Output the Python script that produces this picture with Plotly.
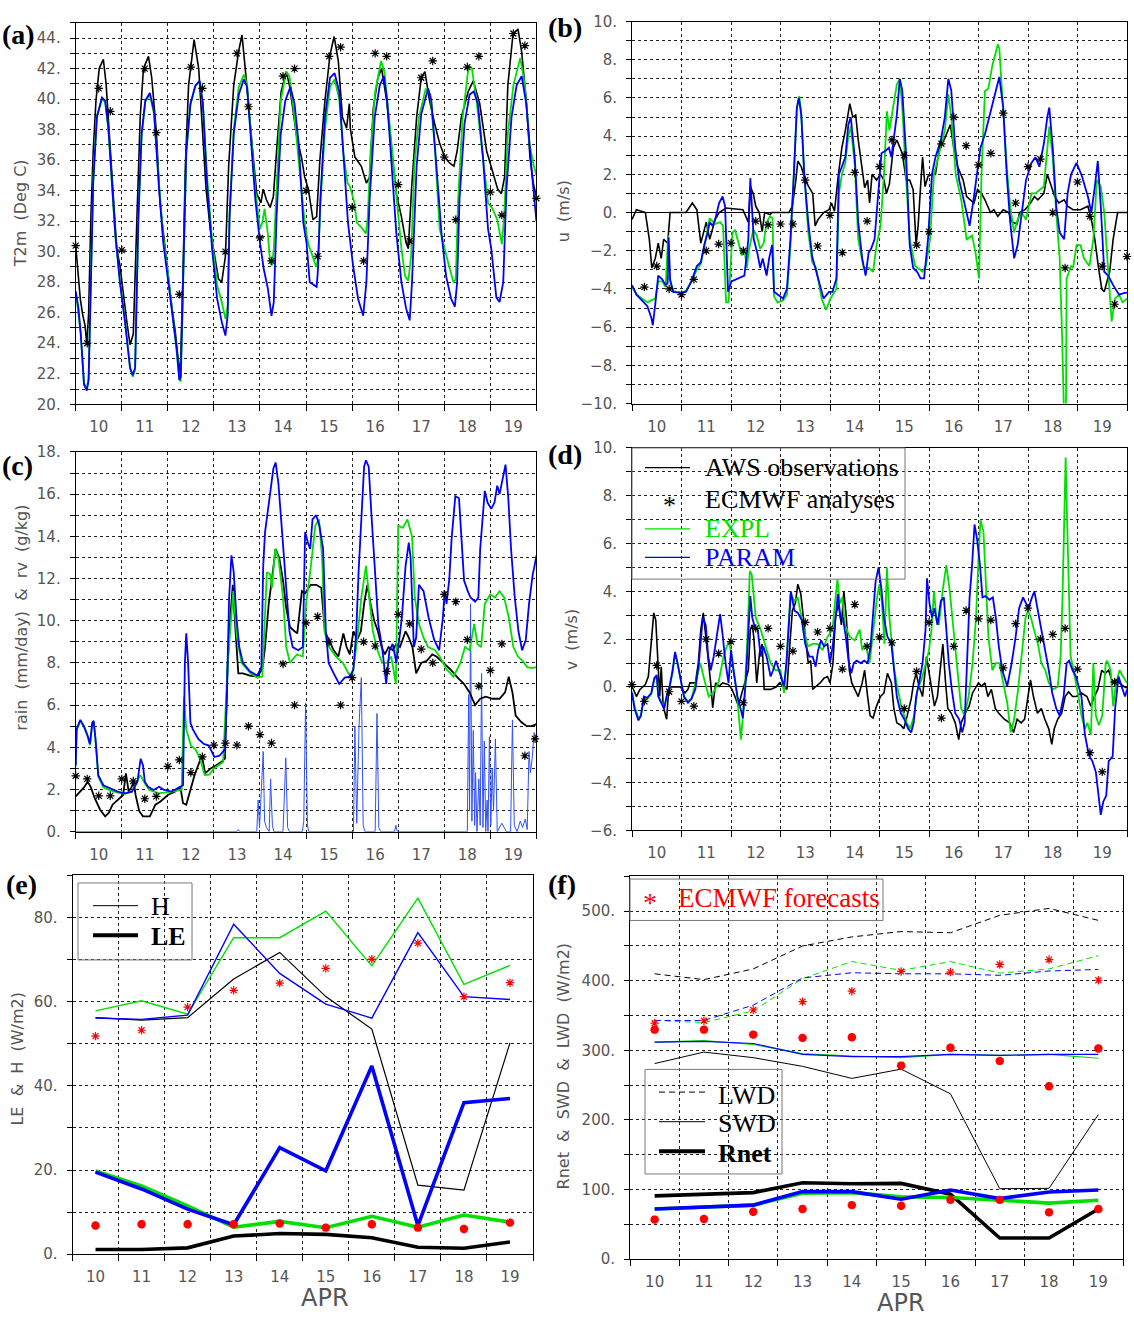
import plotly.graph_objects as go

W, H = 1134, 1327
DAYS = list(range(10, 20))
GREEN = "#00e000"
BLUE = "#0000ff"
RED = "#ff0000"

# ---------------- (a) T2m ----------------
a_obs = [(10.0,30.4),(10.04,29.1),(10.1,26.9),(10.15,25.9),(10.2,25.2),(10.24,24.0),(10.28,25.9),(10.33,32.3),(10.38,36.6),(10.44,39.9),(10.51,42.0),(10.6,42.6),(10.66,41.0),(10.73,37.7),(10.82,33.2),(10.89,30.2),(10.96,29.1),(11.04,26.9),(11.11,25.4),(11.18,23.9),(11.25,24.6),(11.33,32.3),(11.4,38.8),(11.47,42.0),(11.58,42.8),(11.65,41.4),(11.75,37.9),(11.83,33.2),(11.9,31.2),(12.01,28.4),(12.09,26.3),(12.16,24.8),(12.23,22.8),(12.27,22.0),(12.33,28.7),(12.38,35.6),(12.45,40.9),(12.52,42.7),(12.57,43.9),(12.67,42.0),(12.74,38.8),(12.83,34.1),(12.92,31.5),(13.03,29.3),(13.1,28.2),(13.17,28.0),(13.25,29.7),(13.32,35.6),(13.43,40.9),(13.54,43.2),(13.61,44.2),(13.68,42.0),(13.78,38.4),(13.86,36.0),(13.93,33.8),(14.02,33.2),(14.07,34.1),(14.14,33.4),(14.22,32.9),(14.29,33.6),(14.36,36.6),(14.46,40.5),(14.57,41.8),(14.64,40.9),(14.8,37.5),(14.9,36.2),(14.97,34.9),(15.05,34.1),(15.15,32.1),(15.23,32.3),(15.3,36.0),(15.41,39.9),(15.52,42.9),(15.61,44.1),(15.7,42.5),(15.79,38.8),(15.88,38.1),(15.94,39.7),(15.96,38.1),(16.06,36.2),(16.2,35.6),(16.31,34.5),(16.38,34.9),(16.46,39.4),(16.56,41.4),(16.64,42.0),(16.75,39.9),(16.86,36.6),(16.96,33.8),(17.07,32.3),(17.17,30.6),(17.22,30.2),(17.29,34.1),(17.4,38.8),(17.5,41.4),(17.58,41.8),(17.68,39.9),(17.79,38.4),(17.9,37.1),(18.01,36.2),(18.12,35.8),(18.21,35.6),(18.28,36.6),(18.37,38.8),(18.52,40.5),(18.63,41.2),(18.77,39.7),(18.92,36.6),(19.06,35.1),(19.16,34.1),(19.24,33.8),(19.31,34.9),(19.38,40.9),(19.49,44.2),(19.6,44.6),(19.68,43.1),(19.78,39.9),(19.86,36.2),(19.93,34.5),(20.0,33.6)]
a_param = [(10.0,27.4),(10.06,26.3),(10.11,24.6),(10.15,22.6),(10.18,21.3),(10.24,20.9),(10.28,21.6),(10.33,28.0),(10.38,34.5),(10.46,38.8),(10.57,40.1),(10.64,39.9),(10.71,38.1),(10.78,34.9),(10.86,31.2),(10.96,28.0),(11.07,25.4),(11.18,22.4),(11.24,21.9),(11.29,22.4),(11.36,32.3),(11.43,37.7),(11.51,39.9),(11.61,40.4),(11.7,39.2),(11.8,34.5),(11.9,30.6),(12.01,28.0),(12.12,25.4),(12.19,23.7),(12.25,21.6),(12.28,21.8),(12.33,28.0),(12.4,36.6),(12.49,39.7),(12.6,40.9),(12.69,41.2),(12.76,39.7),(12.85,34.5),(12.96,30.2),(13.07,26.9),(13.17,25.4),(13.25,24.5),(13.3,25.9),(13.34,32.3),(13.43,37.7),(13.54,40.3),(13.65,41.3),(13.72,40.8),(13.8,37.7),(13.9,33.4),(14.0,30.6),(14.08,28.9),(14.17,27.6),(14.25,25.8),(14.3,26.7),(14.36,32.3),(14.45,37.7),(14.55,39.9),(14.66,40.8),(14.75,39.7),(14.84,37.1),(14.94,31.9),(15.01,30.6),(15.08,28.0),(15.23,27.7),(15.26,28.9),(15.31,33.4),(15.41,38.8),(15.52,41.4),(15.62,41.7),(15.72,40.5),(15.81,36.2),(15.91,31.9),(16.02,29.1),(16.13,26.9),(16.24,25.8),(16.31,28.0),(16.38,33.4),(16.49,38.8),(16.6,40.9),(16.69,41.5),(16.76,39.9),(16.86,35.6),(16.96,31.2),(17.07,28.0),(17.17,26.3),(17.25,25.5),(17.3,28.0),(17.4,35.6),(17.5,39.0),(17.65,40.7),(17.72,39.9),(17.83,35.6),(17.94,31.2),(18.04,28.4),(18.15,26.9),(18.23,26.4),(18.28,28.0),(18.33,33.4),(18.44,38.4),(18.55,40.3),(18.64,40.5),(18.73,39.7),(18.84,36.2),(18.95,31.5),(19.02,30.2),(19.13,27.0),(19.2,26.7),(19.28,28.0),(19.35,34.1),(19.46,38.8),(19.57,40.9),(19.68,41.5),(19.78,39.7),(19.89,35.6),(20.0,32.0)]
a_expl = [(10.0,27.4),(10.11,24.6),(10.18,21.4),(10.24,21.0),(10.28,21.7),(10.33,28.2),(10.38,34.7),(10.46,38.9),(10.57,40.0),(10.64,39.8),(10.71,38.0),(10.78,34.7),(10.86,31.0),(10.96,28.0),(11.07,25.5),(11.18,22.3),(11.24,21.8),(11.29,22.3),(11.36,32.0),(11.43,37.5),(11.51,39.8),(11.61,40.3),(11.7,39.0),(11.8,34.8),(11.9,31.0),(12.01,28.4),(12.12,25.6),(12.19,23.5),(12.25,21.6),(12.28,21.5),(12.33,27.5),(12.4,36.4),(12.49,39.6),(12.6,40.9),(12.69,41.1),(12.76,39.8),(12.85,35.0),(12.96,30.8),(13.07,27.8),(13.17,26.7),(13.25,25.6),(13.3,26.5),(13.34,32.5),(13.43,38.0),(13.54,40.8),(13.65,41.6),(13.72,41.0),(13.8,38.0),(13.9,34.0),(14.0,31.5),(14.05,31.9),(14.1,32.8),(14.17,31.2),(14.22,29.3),(14.26,29.1),(14.3,30.2),(14.36,34.5),(14.45,39.9),(14.57,41.8),(14.64,41.5),(14.75,38.8),(14.85,35.6),(14.97,31.9),(15.05,30.5),(15.15,29.6),(15.22,29.0),(15.26,29.5),(15.31,33.0),(15.41,38.0),(15.52,40.8),(15.62,41.3),(15.72,40.0),(15.81,36.5),(15.9,34.5),(15.95,34.3),(16.05,33.2),(16.1,31.9),(16.2,31.6),(16.3,31.2),(16.34,32.3),(16.4,36.6),(16.5,40.5),(16.63,42.5),(16.7,41.8),(16.8,38.8),(16.96,33.4),(17.07,30.2),(17.15,28.4),(17.22,28.1),(17.28,29.7),(17.35,35.6),(17.45,38.8),(17.6,40.7),(17.7,40.3),(17.8,36.6),(17.9,31.5),(18.0,30.2),(18.1,29.1),(18.2,28.0),(18.25,28.2),(18.3,33.4),(18.4,38.8),(18.53,42.2),(18.6,42.0),(18.7,39.9),(18.85,35.6),(18.95,33.2),(19.05,32.8),(19.15,32.1),(19.25,30.5),(19.3,32.3),(19.38,37.7),(19.5,40.9),(19.65,42.7),(19.75,40.9),(19.85,37.1),(19.93,35.8),(20.0,35.0)]
a_ana = [(10.0,30.4),(10.25,24.0),(10.5,40.7),(10.75,39.2),(11.0,30.1),(11.5,42.0),(11.75,37.8),(12.25,27.2),(12.5,42.1),(12.75,40.7),(13.25,30.0),(13.5,43.0),(13.75,39.5),(14.0,30.9),(14.25,29.4),(14.5,41.5),(14.75,42.0),(15.0,34.0),(15.25,29.7),(15.5,42.8),(15.75,43.4),(16.0,32.9),(16.25,29.4),(16.5,43.0),(16.75,42.8),(17.0,34.4),(17.25,30.7),(17.5,41.4),(17.75,42.5),(18.0,36.2),(18.25,32.1),(18.5,42.1),(18.75,42.8),(19.0,33.9),(19.25,32.4),(19.5,44.3),(19.75,43.5),(20.0,33.5)]

# ---------------- (b) u ----------------
b_obs = [(10.0,-0.36),(10.09,0.15),(10.27,0.0),(10.35,-1.4),(10.4,-2.9),(10.47,-2.4),(10.53,-1.6),(10.59,-2.4),(10.64,-1.4),(10.72,-1.6),(10.77,0.0),(11.09,0.0),(11.22,0.5),(11.31,0.15),(11.39,-1.6),(11.5,-0.5),(11.57,-1.4),(11.68,-0.36),(11.76,0.0),(11.9,0.24),(12.24,0.15),(12.35,-0.5),(12.39,1.36),(12.45,1.0),(12.5,0.33),(12.57,0.0),(12.63,-1.0),(12.68,0.0),(12.79,-0.1),(12.83,0.0),(13.17,0.0),(13.24,0.33),(13.31,1.7),(13.35,2.7),(13.42,2.4),(13.5,1.7),(13.57,1.36),(13.65,1.0),(13.7,-0.7),(13.76,-0.36),(13.87,0.0),(13.98,0.15),(14.03,0.5),(14.09,0.07),(14.17,2.0),(14.24,3.4),(14.31,4.3),(14.4,5.7),(14.46,5.0),(14.52,5.1),(14.57,3.8),(14.65,2.4),(14.7,1.3),(14.76,1.7),(14.8,0.5),(14.85,2.0),(14.94,1.7),(15.02,2.0),(15.09,1.7),(15.14,1.0),(15.2,1.5),(15.28,3.4),(15.35,3.8),(15.46,3.1),(15.54,1.7),(15.61,1.7),(15.68,1.2),(15.74,-1.7),(15.78,-0.7),(15.83,1.36),(15.87,2.9),(15.92,1.36),(15.98,1.9),(16.06,2.0),(16.13,2.0),(16.21,3.4),(16.32,3.9),(16.43,4.6),(16.5,3.4),(16.58,2.4),(16.69,1.7),(16.76,0.84),(16.83,0.67),(16.91,0.5),(16.98,1.2),(17.06,1.0),(17.13,0.67),(17.24,0.0),(17.31,0.15),(17.39,-0.2),(17.5,0.15),(17.61,0.0),(17.68,-0.5),(17.78,-0.6),(17.83,0.0),(17.94,0.15),(18.05,0.5),(18.13,0.84),(18.2,0.67),(18.32,1.0),(18.39,2.0),(18.47,1.36),(18.54,0.84),(18.62,0.5),(18.73,0.67),(18.8,0.33),(18.91,0.15),(19.06,0.15),(19.21,0.33),(19.28,-0.36),(19.35,-1.4),(19.42,-2.8),(19.49,-4.0),(19.54,-4.15),(19.59,-3.6),(19.65,-3.1),(19.72,-1.4),(19.81,0.0),(20.0,0.0)]
b_param = [(10.0,-3.8),(10.09,-4.3),(10.2,-4.6),(10.31,-4.9),(10.39,-5.5),(10.42,-5.9),(10.47,-4.8),(10.53,-3.3),(10.61,-3.5),(10.68,-3.8),(10.72,-3.7),(10.74,-1.3),(10.77,-3.5),(10.83,-4.15),(10.98,-4.2),(11.09,-4.15),(11.2,-3.6),(11.31,-2.8),(11.39,-2.6),(11.46,-1.7),(11.53,-1.05),(11.57,-0.5),(11.63,-0.7),(11.68,-0.36),(11.76,0.5),(11.83,0.84),(11.88,0.33),(11.94,-4.15),(12.01,-3.6),(12.09,-3.5),(12.16,-3.45),(12.27,-3.3),(12.31,-2.4),(12.35,-1.4),(12.39,1.8),(12.42,0.67),(12.46,-1.4),(12.53,-2.1),(12.59,-2.9),(12.64,-2.4),(12.68,-2.9),(12.72,-3.3),(12.77,-2.4),(12.83,-1.7),(12.87,-4.15),(12.94,-4.3),(13.05,-4.5),(13.13,-4.0),(13.2,-1.4),(13.27,2.0),(13.33,5.5),(13.37,6.0),(13.42,5.1),(13.48,2.0),(13.56,-0.5),(13.64,-2.3),(13.72,-3.1),(13.79,-3.8),(13.87,-4.5),(13.98,-4.15),(14.05,-4.15),(14.13,-3.45),(14.18,2.0),(14.24,2.4),(14.31,2.9),(14.37,4.6),(14.42,5.0),(14.5,2.9),(14.57,-0.5),(14.65,-2.4),(14.72,-3.3),(14.78,-2.1),(14.83,-1.9),(14.9,-1.4),(14.98,1.0),(15.04,3.1),(15.13,3.25),(15.19,3.4),(15.24,2.9),(15.29,3.9),(15.35,5.1),(15.41,7.0),(15.46,6.4),(15.54,2.9),(15.61,-1.7),(15.68,-2.9),(15.76,-3.1),(15.83,-3.45),(15.9,-3.45),(15.98,-1.4),(16.06,2.0),(16.13,2.9),(16.24,3.8),(16.32,5.0),(16.39,7.0),(16.45,6.4),(16.53,3.4),(16.61,1.7),(16.69,0.84),(16.76,0.0),(16.82,-0.7),(16.9,0.67),(16.97,2.0),(17.04,3.4),(17.13,4.1),(17.24,5.3),(17.35,6.35),(17.42,7.1),(17.5,5.5),(17.57,2.0),(17.64,-0.5),(17.72,-2.4),(17.79,-1.7),(17.87,0.0),(17.96,1.7),(18.07,2.6),(18.15,2.9),(18.23,2.4),(18.32,3.6),(18.39,5.0),(18.43,5.5),(18.5,3.4),(18.57,0.33),(18.64,-1.05),(18.73,-1.4),(18.8,1.0),(18.87,2.0),(18.98,2.6),(19.09,1.9),(19.21,0.84),(19.28,0.0),(19.35,1.36),(19.41,2.7),(19.47,0.33),(19.54,-3.1),(19.62,-3.3),(19.72,-3.8),(19.84,-4.3),(19.95,-4.2),(20.0,-4.2)]
b_expl = [(10.0,-3.9),(10.1,-4.3),(10.2,-4.5),(10.31,-4.7),(10.39,-4.6),(10.47,-4.5),(10.53,-3.6),(10.61,-3.6),(10.68,-3.9),(10.73,-1.2),(10.76,-3.5),(10.83,-4.1),(10.98,-4.2),(11.09,-4.1),(11.2,-3.6),(11.31,-3.0),(11.39,-2.7),(11.47,-1.6),(11.57,-0.3),(11.68,-0.6),(11.78,-0.5),(11.84,-0.7),(11.9,-4.7),(11.95,-4.7),(12.03,-1.05),(12.08,-0.9),(12.15,-1.6),(12.22,-2.25),(12.27,-1.9),(12.32,-2.9),(12.36,-2.0),(12.45,-0.9),(12.52,-1.2),(12.59,-1.9),(12.66,-1.6),(12.72,-0.5),(12.79,-0.2),(12.84,-0.3),(12.87,-4.4),(12.94,-4.7),(13.05,-4.6),(13.13,-4.3),(13.2,-1.8),(13.27,1.8),(13.33,5.4),(13.38,6.1),(13.42,5.2),(13.48,2.0),(13.56,-1.0),(13.64,-2.6),(13.72,-2.9),(13.83,-4.5),(13.92,-5.1),(14.01,-4.5),(14.13,-4.0),(14.18,1.0),(14.24,2.0),(14.31,2.6),(14.37,4.0),(14.42,4.5),(14.5,2.5),(14.57,-1.4),(14.68,-2.9),(14.79,-2.9),(14.87,-3.1),(14.94,-1.7),(15.02,-0.7),(15.09,2.0),(15.15,5.3),(15.2,4.3),(15.28,5.5),(15.35,6.7),(15.41,7.0),(15.46,5.5),(15.54,1.7),(15.61,-1.4),(15.72,-2.8),(15.87,-3.1),(15.94,-2.8),(16.02,-1.4),(16.1,2.0),(16.21,3.1),(16.32,4.3),(16.39,6.2),(16.45,5.0),(16.54,2.0),(16.65,0.67),(16.76,-1.4),(16.87,-1.2),(16.94,-2.1),(17.01,-3.45),(17.06,2.0),(17.13,6.35),(17.2,6.5),(17.28,7.7),(17.39,8.8),(17.42,8.6),(17.5,5.3),(17.57,2.4),(17.64,0.33),(17.72,-1.05),(17.79,-0.36),(17.87,0.0),(17.96,-0.36),(18.07,1.0),(18.15,1.0),(18.32,1.36),(18.43,4.5),(18.5,2.9),(18.57,0.0),(18.64,-2.4),(18.69,-6.6),(18.72,-14.0),(18.76,-14.0),(18.78,-3.45),(18.87,-2.8),(18.91,-2.9),(18.98,-1.7),(19.06,-1.7),(19.13,-2.4),(19.24,-2.8),(19.32,-1.4),(19.39,1.7),(19.47,1.36),(19.54,0.0),(19.62,-3.1),(19.69,-5.7),(19.76,-4.5),(19.84,-4.3),(19.91,-4.7),(20.0,-4.5)]
b_ana = [(10.25,-3.9),(10.5,-2.8),(10.75,-4.0),(11.0,-4.3),(11.25,-3.5),(11.5,-2.0),(11.75,-1.65),(12.0,-1.6),(12.25,-2.0),(12.5,-0.45),(12.75,-0.65),(13.0,-0.6),(13.25,-0.6),(13.5,1.7),(13.75,-1.75),(14.0,-0.15),(14.25,-2.1),(14.5,2.1),(14.75,-0.45),(15.0,2.4),(15.25,3.8),(15.5,3.0),(15.75,-1.7),(16.0,-1.0),(16.25,3.6),(16.5,5.0),(16.75,3.5),(17.0,2.5),(17.25,3.1),(17.5,5.2),(17.75,0.5),(18.0,2.4),(18.25,2.8),(18.5,0.0),(18.75,-2.9),(19.0,1.6),(19.25,-0.2),(19.5,-2.8),(19.75,-4.8),(20.0,-2.3)]

# ---------------- (c) rain & rv ----------------
c_obs = [(10.0,1.67),(10.1,1.9),(10.18,2.1),(10.26,2.37),(10.33,2.1),(10.41,1.6),(10.53,1.04),(10.64,0.73),(10.72,0.9),(10.8,1.28),(10.91,1.5),(11.03,1.74),(11.09,2.76),(11.15,1.9),(11.21,2.1),(11.26,2.37),(11.3,1.74),(11.38,0.97),(11.46,0.73),(11.61,0.73),(11.73,1.28),(11.84,1.43),(12.0,1.74),(12.16,1.9),(12.27,2.13),(12.33,1.35),(12.4,1.28),(12.5,2.05),(12.58,2.68),(12.66,3.15),(12.74,3.6),(12.81,2.76),(12.93,3.0),(13.05,3.15),(13.16,3.3),(13.24,3.46),(13.3,8.0),(13.36,10.3),(13.41,11.7),(13.47,9.5),(13.53,7.5),(13.63,7.5),(13.78,7.4),(13.94,7.35),(14.05,7.7),(14.11,8.75),(14.19,10.8),(14.26,12.0),(14.34,13.4),(14.42,12.96),(14.5,11.9),(14.57,10.6),(14.65,9.7),(14.75,9.5),(14.81,9.4),(14.91,11.4),(14.98,11.3),(15.1,11.7),(15.22,11.7),(15.33,11.56),(15.41,9.5),(15.49,9.1),(15.6,8.6),(15.7,8.3),(15.76,8.9),(15.81,9.4),(15.88,8.75),(15.95,8.4),(16.03,9.5),(16.11,9.1),(16.19,9.5),(16.26,10.8),(16.33,11.7),(16.4,10.8),(16.48,10.0),(16.56,9.5),(16.64,8.75),(16.71,8.4),(16.79,8.75),(16.88,8.6),(16.96,8.9),(17.04,8.75),(17.16,9.5),(17.23,9.2),(17.31,8.75),(17.39,7.5),(17.5,8.0),(17.62,8.1),(17.74,8.4),(17.83,8.3),(17.98,8.0),(18.13,7.7),(18.29,7.3),(18.43,7.0),(18.55,6.6),(18.67,6.0),(18.78,6.3),(18.9,6.4),(19.05,6.3),(19.2,6.3),(19.32,6.6),(19.4,7.35),(19.48,6.6),(19.55,5.5),(19.67,5.2),(19.79,5.0),(19.9,5.0),(20.0,5.1)]
c_param = [(10.0,3.15),(10.02,4.86),(10.1,5.3),(10.18,5.0),(10.26,4.55),(10.31,4.16),(10.36,5.17),(10.39,5.25),(10.43,4.4),(10.49,2.68),(10.6,2.2),(10.76,2.06),(10.91,1.9),(11.07,1.82),(11.22,1.9),(11.34,2.37),(11.41,3.46),(11.46,3.15),(11.5,2.37),(11.57,2.13),(11.69,1.98),(11.81,2.13),(11.92,1.98),(12.08,1.9),(12.23,2.06),(12.33,2.2),(12.37,8.0),(12.4,9.4),(12.44,8.0),(12.49,5.17),(12.54,4.86),(12.66,4.4),(12.78,4.16),(12.89,4.08),(13.01,3.54),(13.12,3.6),(13.24,3.9),(13.28,6.4),(13.33,11.1),(13.38,13.1),(13.43,12.3),(13.49,10.15),(13.55,8.75),(13.63,8.0),(13.78,7.6),(13.94,7.4),(14.03,7.8),(14.07,12.6),(14.11,14.2),(14.21,15.8),(14.29,17.2),(14.34,17.5),(14.4,16.5),(14.48,14.2),(14.56,11.9),(14.64,9.5),(14.71,8.75),(14.83,8.6),(14.93,8.75),(14.98,14.2),(15.04,13.7),(15.09,13.4),(15.14,14.8),(15.22,15.0),(15.29,14.5),(15.37,13.4),(15.43,9.5),(15.49,8.0),(15.6,7.5),(15.72,7.0),(15.84,7.3),(15.95,7.35),(16.03,7.7),(16.09,9.5),(16.14,12.3),(16.2,15.0),(16.26,17.3),(16.3,17.6),(16.36,17.3),(16.42,15.0),(16.5,11.9),(16.57,9.8),(16.65,8.75),(16.74,7.0),(16.81,8.6),(16.88,8.9),(16.96,8.0),(17.02,9.2),(17.08,10.15),(17.16,12.6),(17.23,13.7),(17.27,12.96),(17.34,8.75),(17.39,9.2),(17.45,11.7),(17.55,11.4),(17.66,10.15),(17.78,9.1),(17.89,8.6),(17.97,10.15),(18.01,11.4),(18.05,10.8),(18.11,12.0),(18.16,13.9),(18.24,15.9),(18.32,15.8),(18.37,13.9),(18.43,11.9),(18.51,11.4),(18.57,11.1),(18.67,10.9),(18.74,11.1),(18.78,13.4),(18.84,15.1),(18.88,16.15),(18.94,15.6),(19.02,15.3),(19.09,15.6),(19.15,16.4),(19.2,16.0),(19.25,16.5),(19.33,17.4),(19.39,15.8),(19.45,13.4),(19.53,11.1),(19.61,9.5),(19.69,8.6),(19.77,9.1),(19.84,10.8),(19.92,12.2),(19.96,12.6),(20.0,13.1)]
c_expl = [(10.0,3.1),(10.02,4.8),(10.1,5.25),(10.18,4.95),(10.26,4.5),(10.31,4.1),(10.36,5.1),(10.39,5.2),(10.43,4.35),(10.49,2.6),(10.6,2.1),(10.76,1.95),(10.91,1.85),(11.07,1.8),(11.22,1.9),(11.32,2.3),(11.4,2.68),(11.5,2.3),(11.6,1.98),(11.8,1.82),(12.1,1.9),(12.3,2.0),(12.35,6.4),(12.4,4.86),(12.5,4.08),(12.6,3.9),(12.7,3.46),(12.8,2.68),(12.9,2.7),(13.0,3.0),(13.1,3.15),(13.2,3.3),(13.3,8.0),(13.36,9.85),(13.42,11.4),(13.5,9.2),(13.6,8.0),(13.8,7.5),(13.95,7.3),(14.05,7.35),(14.1,9.85),(14.15,12.3),(14.22,12.2),(14.26,11.56),(14.33,13.4),(14.4,12.96),(14.5,11.1),(14.57,8.75),(14.65,8.0),(14.8,8.4),(14.93,8.3),(15.0,10.8),(15.1,12.5),(15.2,14.5),(15.28,14.8),(15.35,12.96),(15.4,9.5),(15.5,8.75),(15.65,8.3),(15.8,8.0),(15.92,7.5),(16.0,7.35),(16.1,8.9),(16.2,11.1),(16.3,12.6),(16.36,11.4),(16.45,9.5),(16.55,8.6),(16.65,8.0),(16.75,8.0),(16.85,8.3),(16.95,7.0),(17.0,14.5),(17.1,14.4),(17.2,14.8),(17.3,14.0),(17.36,11.1),(17.45,9.85),(17.55,9.2),(17.65,8.75),(17.8,8.6),(17.9,8.3),(18.05,7.7),(18.2,7.35),(18.35,8.0),(18.45,8.75),(18.55,8.6),(18.65,9.85),(18.72,8.9),(18.8,8.75),(18.88,10.8),(19.0,11.25),(19.1,11.1),(19.2,11.4),(19.3,11.1),(19.4,10.15),(19.5,8.75),(19.6,8.3),(19.7,8.1),(19.8,7.8),(19.9,7.75),(20.0,7.8)]
c_rain = [(10.0,0),(13.5,0),(13.53,0.1),(13.56,0),(13.93,0),(13.96,1.5),(13.99,0.2),(14.03,1.8),(14.07,3.8),(14.1,0.5),(14.14,0.2),(14.2,0),(14.23,2.5),(14.27,0.3),(14.3,0),(14.5,0),(14.53,2.2),(14.56,3.5),(14.6,0.2),(14.64,0),(14.92,0),(14.95,0.5),(14.99,6.1),(15.03,0.3),(15.06,0),(16.03,0),(16.06,5.0),(16.1,0.4),(16.15,5.0),(16.2,7.3),(16.24,0.3),(16.28,0),(16.5,0),(16.54,5.6),(16.58,0.2),(16.62,0),(16.92,0),(16.95,0.3),(16.98,0),(18.5,0),(18.53,6.5),(18.55,1.0),(18.57,10.8),(18.6,0.5),(18.63,4.8),(18.66,0.3),(18.68,2.8),(18.71,0),(18.75,2.5),(18.78,0.3),(18.81,7.5),(18.84,0.2),(18.87,4.3),(18.9,0),(18.93,1.5),(18.95,0),(18.98,4.5),(19.01,0.3),(19.04,3.0),(19.07,1.0),(19.11,4.4),(19.15,0),(19.25,0.4),(19.3,0.2),(19.35,0),(19.44,0),(19.48,5.3),(19.52,0.3),(19.58,0),(19.65,0.5),(19.7,0.2),(19.76,0.6),(19.8,0.1),(19.84,3.8),(19.87,2.8),(19.91,3.5),(19.95,4.7),(20.0,4.4)]
c_ana = [(10.0,2.65),(10.25,2.5),(10.5,1.7),(10.75,1.7),(11.0,2.5),(11.25,2.4),(11.5,1.56),(11.75,1.67),(12.0,3.1),(12.25,3.4),(12.5,2.8),(12.75,3.55),(13.0,4.1),(13.25,4.2),(13.5,4.1),(13.75,5.0),(14.0,4.6),(14.25,4.2),(14.5,7.95),(14.75,6.0),(15.0,9.9),(15.25,10.2),(15.5,9.0),(15.75,6.0),(16.0,7.3),(16.25,9.0),(16.5,8.8),(16.75,7.6),(17.0,10.3),(17.25,9.85),(17.5,8.65),(17.75,8.0),(18.0,11.25),(18.25,10.9),(18.5,9.1),(18.75,6.9),(19.0,7.65),(19.25,8.9),(19.75,3.6),(19.97,4.4)]

# ---------------- (d) v ----------------
d_obs = [(10.0,0.03),(10.05,-0.25),(10.09,-0.4),(10.16,-0.1),(10.27,0.1),(10.33,0.44),(10.39,2.1),(10.44,3.1),(10.48,2.8),(10.52,1.0),(10.56,-0.4),(10.59,0.85),(10.63,-0.8),(10.7,-1.35),(10.74,-0.1),(10.79,0.0),(10.98,0.0),(11.07,-0.25),(11.13,-0.1),(11.17,0.17),(11.28,0.17),(11.34,1.0),(11.39,2.4),(11.44,3.1),(11.49,2.1),(11.54,1.27),(11.59,0.17),(11.63,-0.87),(11.69,0.17),(11.76,0.03),(11.83,0.17),(11.95,0.1),(12.02,-0.1),(12.08,-0.4),(12.15,-0.8),(12.2,-0.4),(12.28,0.17),(12.35,0.7),(12.39,2.4),(12.43,2.6),(12.46,2.1),(12.52,0.17),(12.58,1.5),(12.63,1.8),(12.67,-0.1),(12.8,-0.1),(12.91,0.0),(12.98,0.17),(13.06,0.03),(13.13,-0.1),(13.19,1.8),(13.24,3.2),(13.3,3.5),(13.35,4.3),(13.41,3.9),(13.46,2.9),(13.51,2.1),(13.56,1.0),(13.61,1.1),(13.65,-0.1),(13.72,0.03),(13.8,0.17),(13.88,0.37),(13.95,0.44),(14.0,0.17),(14.06,1.0),(14.11,2.9),(14.17,3.5),(14.23,2.6),(14.28,4.0),(14.33,2.9),(14.39,0.7),(14.44,0.17),(14.5,-0.1),(14.57,-0.4),(14.65,0.17),(14.7,0.7),(14.76,-0.4),(14.81,-1.2),(14.87,-1.3),(14.94,-0.8),(15.02,-0.4),(15.09,-0.25),(15.16,0.57),(15.24,0.17),(15.29,-0.9),(15.35,-1.5),(15.43,-1.6),(15.49,-1.75),(15.56,-1.2),(15.64,-0.5),(15.69,0.17),(15.74,0.57),(15.8,0.03),(15.87,-0.4),(15.95,1.27),(16.01,0.44),(16.06,-0.1),(16.11,-0.8),(16.17,-0.4),(16.23,0.7),(16.28,1.8),(16.33,0.3),(16.38,-0.9),(16.45,-1.1),(16.53,-1.5),(16.6,-2.2),(16.65,-1.5),(16.73,-1.1),(16.81,-0.8),(16.88,-0.25),(16.96,0.03),(17.0,0.17),(17.06,0.03),(17.13,0.17),(17.19,-0.4),(17.26,-0.1),(17.34,-0.9),(17.41,-1.1),(17.52,-1.35),(17.63,-1.5),(17.71,-1.9),(17.78,-1.35),(17.86,-1.5),(17.93,-1.35),(18.0,-0.4),(18.05,0.3),(18.11,-0.4),(18.19,-1.1),(18.27,-0.9),(18.34,-1.35),(18.42,-1.75),(18.48,-2.4),(18.53,-1.75),(18.6,-1.35),(18.68,-1.1),(18.75,-0.4),(18.82,-0.2),(18.9,-0.4),(18.97,-0.4),(19.08,-0.25),(19.19,-0.4),(19.27,-0.8),(19.34,-0.4),(19.41,-0.1),(19.49,0.7),(19.56,0.57),(19.63,0.7),(19.71,0.17),(19.78,0.3),(19.86,0.17),(19.93,0.03),(20.0,-0.04)]
d_param = [(10.0,-0.25),(10.05,-0.9),(10.13,-1.4),(10.18,-1.2),(10.24,-0.4),(10.31,-0.45),(10.39,-0.25),(10.45,0.37),(10.5,0.5),(10.53,-0.4),(10.59,-0.66),(10.65,-0.9),(10.7,-0.4),(10.76,0.03),(10.82,0.7),(10.87,1.47),(10.92,1.0),(10.98,0.3),(11.05,-0.4),(11.13,-0.66),(11.2,-0.5),(11.28,-0.1),(11.35,1.0),(11.43,2.9),(11.49,2.6),(11.54,1.27),(11.59,0.7),(11.65,1.27),(11.71,2.1),(11.78,3.05),(11.83,2.2),(11.89,1.0),(11.95,0.17),(12.0,1.54),(12.05,0.7),(12.13,-0.4),(12.18,-0.8),(12.24,-1.3),(12.3,0.3),(12.35,2.4),(12.39,3.8),(12.43,2.9),(12.48,2.5),(12.54,2.4),(12.6,1.27),(12.65,1.7),(12.72,1.27),(12.8,0.44),(12.85,0.7),(12.91,1.1),(12.97,0.7),(13.02,0.44),(13.07,0.03),(13.12,1.0),(13.17,2.9),(13.21,4.0),(13.28,3.2),(13.35,3.1),(13.43,2.8),(13.5,1.8),(13.58,1.27),(13.65,1.27),(13.71,0.85),(13.76,1.54),(13.82,1.95),(13.88,1.7),(13.95,1.8),(14.0,1.0),(14.06,1.8),(14.11,2.9),(14.16,3.9),(14.21,2.9),(14.26,2.9),(14.32,2.1),(14.38,1.0),(14.43,0.57),(14.48,1.0),(14.54,1.1),(14.62,1.0),(14.69,1.1),(14.76,1.0),(14.82,1.7),(14.87,2.9),(14.92,4.4),(14.98,5.0),(15.04,4.1),(15.09,2.9),(15.16,2.1),(15.24,1.8),(15.29,0.7),(15.35,-0.4),(15.43,-1.1),(15.5,-1.35),(15.58,-1.75),(15.64,-1.9),(15.69,-1.5),(15.74,-0.4),(15.8,0.17),(15.87,1.0),(15.93,2.4),(15.96,4.55),(16.01,3.5),(16.06,2.9),(16.11,3.3),(16.17,2.6),(16.24,3.6),(16.3,3.75),(16.35,2.4),(16.4,1.0),(16.46,-0.1),(16.53,-1.1),(16.61,-1.35),(16.67,-1.9),(16.72,-1.5),(16.77,1.0),(16.82,3.75),(16.87,5.1),(16.92,6.8),(16.97,6.2),(17.03,5.1),(17.08,3.75),(17.14,3.8),(17.22,3.65),(17.29,3.75),(17.35,2.9),(17.41,1.7),(17.48,0.7),(17.58,0.03),(17.67,1.0),(17.75,2.1),(17.82,3.3),(17.9,3.75),(17.96,3.5),(18.01,3.3),(18.08,3.75),(18.13,4.0),(18.19,3.3),(18.27,2.4),(18.34,1.7),(18.42,0.7),(18.49,-0.25),(18.57,-0.9),(18.64,-1.2),(18.72,-0.4),(18.78,1.0),(18.83,1.1),(18.9,0.7),(18.97,0.44),(19.08,-0.4),(19.15,-2.0),(19.23,-2.85),(19.3,-3.1),(19.37,-3.55),(19.43,-4.8),(19.47,-5.35),(19.52,-4.8),(19.58,-4.55),(19.63,-3.1),(19.71,-2.9),(19.76,-0.9),(19.83,0.44),(19.89,0.03),(19.96,-0.4),(20.0,-0.1)]
d_expl = [(10.0,-0.2),(10.05,-0.8),(10.13,-1.3),(10.18,-1.2),(10.24,-0.5),(10.31,-0.5),(10.39,-0.3),(10.45,0.3),(10.5,0.45),(10.53,-0.35),(10.59,-0.6),(10.65,-0.85),(10.7,-0.4),(10.76,0.0),(10.82,0.6),(10.87,1.4),(10.92,1.0),(10.98,0.3),(11.05,-0.4),(11.13,-0.6),(11.2,-0.5),(11.3,0.3),(11.38,1.0),(11.45,0.4),(11.55,-0.4),(11.65,-0.2),(11.75,0.2),(11.85,1.3),(11.95,1.9),(12.0,1.5),(12.05,0.7),(12.12,-0.3),(12.2,-2.2),(12.27,-0.5),(12.33,2.0),(12.38,4.85),(12.42,4.7),(12.5,2.9),(12.6,2.4),(12.7,1.7),(12.8,1.0),(12.9,0.7),(13.0,0.7),(13.07,-0.25),(13.12,1.0),(13.2,3.9),(13.28,3.6),(13.35,3.75),(13.45,2.6),(13.55,1.7),(13.65,1.8),(13.75,1.8),(13.85,1.54),(13.95,2.1),(14.05,2.4),(14.1,3.5),(14.15,4.5),(14.2,3.5),(14.25,3.75),(14.3,2.6),(14.4,2.1),(14.5,1.95),(14.6,2.4),(14.65,1.54),(14.72,1.8),(14.8,1.0),(14.88,2.4),(14.95,3.75),(15.0,4.3),(15.05,3.5),(15.1,1.8),(15.15,5.0),(15.2,2.9),(15.3,0.7),(15.35,0.1),(15.45,-0.9),(15.55,-1.5),(15.62,-1.75),(15.7,-1.2),(15.77,-0.1),(15.85,0.3),(15.93,1.0),(16.0,1.54),(16.05,2.4),(16.1,4.0),(16.15,2.9),(16.2,2.6),(16.28,4.1),(16.35,5.1),(16.42,4.0),(16.5,2.4),(16.58,0.7),(16.65,-0.9),(16.72,-1.2),(16.8,-0.4),(16.88,1.0),(16.95,2.9),(17.0,5.4),(17.04,7.0),(17.1,6.5),(17.15,4.4),(17.2,2.1),(17.28,0.7),(17.35,1.0),(17.42,1.0),(17.5,0.17),(17.58,-0.66),(17.65,-1.9),(17.72,-1.35),(17.8,-0.1),(17.88,1.54),(17.95,2.9),(18.0,3.2),(18.06,2.9),(18.12,2.4),(18.2,1.8),(18.27,1.0),(18.35,0.7),(18.42,0.17),(18.5,-0.1),(18.6,0.0),(18.66,1.3),(18.7,4.0),(18.73,7.5),(18.76,9.6),(18.79,7.0),(18.82,4.0),(18.86,1.3),(18.92,0.7),(18.97,0.17),(19.02,-0.4),(19.08,-1.2),(19.15,-1.75),(19.2,-1.5),(19.27,-2.0),(19.32,1.0),(19.37,-1.2),(19.43,-1.6),(19.5,-1.2),(19.57,1.0),(19.6,1.1),(19.67,0.7),(19.72,-0.8),(19.78,0.17),(19.85,0.7),(19.92,0.44),(20.0,0.17)]
d_ana = [(10.0,0.1),(10.25,-0.6),(10.5,0.9),(10.75,-0.2),(11.0,-0.6),(11.25,-0.8),(11.5,2.0),(11.75,1.4),(12.0,1.9),(12.25,-0.66),(12.5,2.45),(12.75,2.45),(13.0,1.7),(13.25,1.5),(13.5,2.7),(13.75,2.3),(14.0,2.45),(14.25,0.75),(14.5,3.45),(14.75,1.7),(15.0,2.1),(15.25,1.85),(15.5,-0.9),(15.75,0.65),(16.0,2.7),(16.25,-1.3),(16.5,1.7),(16.75,3.2),(17.0,2.85),(17.25,2.8),(17.5,0.8),(17.75,2.65),(18.0,3.3),(18.25,2.0),(18.5,2.2),(18.75,2.45),(19.0,0.75),(19.25,-2.75),(19.5,-3.55),(19.75,0.2)]

# ---------------- (e) daily H and LE ----------------
e_H_obs = [56.2, 55.6, 56.2, 65.4, 71.7, 61.2, 53.5, 16.4, 15.2, 50.2]
e_H_expl = [57.8, 60.2, 57.0, 75.2, 75.2, 81.5, 68.5, 84.6, 64.1, 68.6]
e_H_param = [56.1, 55.8, 56.8, 78.4, 66.7, 59.4, 56.1, 76.4, 61.2, 60.5]
e_H_fc = [51.8, 53.2, 58.7, 62.7, 64.4, 67.9, 70.1, 73.9, 61.2, 64.5]
e_LE_obs = [1.1, 1.1, 1.5, 4.3, 4.9, 4.7, 3.9, 1.65, 1.4, 2.9]
e_LE_expl = [19.8, 16.2, 11.5, 6.4, 7.8, 6.3, 9.0, 6.4, 9.3, 7.6]
e_LE_param = [19.5, 15.5, 10.7, 7.0, 25.3, 19.8, 44.7, 6.8, 36.0, 37.0]
e_LE_fc = [6.8, 7.1, 7.1, 7.1, 7.3, 6.3, 7.1, 6.3, 6.0, 7.5]

# ---------------- (f) daily radiation ----------------
f_LWD_obs = [410, 401.6, 417, 450, 463, 470.7, 469, 494, 504, 486.8]
f_LWD_expl = [343, 340, 356.7, 403, 427.6, 414.9, 427.6, 411, 417, 436]
f_LWD_param = [343, 343, 365, 404, 411.5, 410, 410, 407.8, 414, 416.3]
f_LWD_fc = [339, 342.5, 358, 370, 385, 413.4, 412.5, 423.4, 430.5, 400.7]
f_SWD_obs = [281, 297.5, 289.5, 277, 259.7, 273, 237.5, 101.2, 101.7, 207.7]
f_SWD_expl = [311.7, 314, 308.4, 295.2, 291.9, 289.5, 294.2, 292.8, 294.2, 288.6]
f_SWD_param = [311.7, 313, 309.8, 294.2, 291, 291, 294.2, 292.8, 294.2, 294.2]
f_SWD_fc = [329.7, 329.7, 322.6, 317.9, 318.8, 278.1, 303.7, 284.8, 248.3, 302.7]
f_Rn_obs = [90.8, 93.2, 95.6, 109.7, 108.3, 108.8, 93.2, 30.3, 30.3, 71.9]
f_Rn_expl = [71.9, 74.3, 77.6, 94.6, 95.6, 89.4, 88.5, 84.7, 80.4, 84.7]
f_Rn_param = [71.9, 74.3, 77.6, 97.0, 97.0, 86.1, 99.3, 87.0, 96.5, 99.3]
f_Rn_fc = [56.8, 57.7, 68.1, 71.9, 77.6, 76.6, 85.1, 85.1, 67.2, 71.9]

# ======================================================================
def px(x):
    return x / W

def py(y):
    return 1 - y / H

fig = go.Figure()

def line(pairs_or_x, ys, ax, color, width, dash=None):
    if ys is None:
        xs, vals = zip(*pairs_or_x)
    else:
        xs, vals = pairs_or_x, ys
    fig.add_trace(go.Scatter(x=list(xs), y=list(vals), mode="lines",
                             line=dict(color=color, width=width, dash=dash),
                             xaxis="x" + ax, yaxis="y" + ax, showlegend=False, hoverinfo="skip"))

def stars(pairs_or_x, ys, ax, color, size, lw):
    if ys is None:
        xs, vals = zip(*pairs_or_x)
    else:
        xs, vals = pairs_or_x, ys
    fig.add_trace(go.Scatter(x=list(xs), y=list(vals), mode="markers",
                             marker=dict(symbol="asterisk-open", size=size, color=color,
                                         line=dict(color=color, width=lw)),
                             xaxis="x" + ax, yaxis="y" + ax, showlegend=False, hoverinfo="skip",
                             cliponaxis=False))

TS_W = 1.8
# (a)
line(a_obs, None, "", "black", 1.6)
line(a_expl, None, "", GREEN, TS_W)
line(a_param, None, "", BLUE, TS_W)
stars(a_ana, None, "", "black", 7, 1.2)
# (b)
line(b_obs, None, "2", "black", 1.6)
line(b_expl, None, "2", GREEN, TS_W)
line(b_param, None, "2", BLUE, TS_W)
stars(b_ana, None, "2", "black", 7, 1.2)
# (c)
line(c_rain, None, "3", "#3050ff", 1.0)
line(c_obs, None, "3", "black", 1.8)
line(c_expl, None, "3", GREEN, TS_W)
line(c_param, None, "3", BLUE, TS_W)
stars(c_ana, None, "3", "black", 7, 1.2)
# (d)
line(d_obs, None, "4", "black", 1.6)
line(d_expl, None, "4", GREEN, TS_W)
line(d_param, None, "4", BLUE, TS_W)
stars(d_ana, None, "4", "black", 7, 1.2)
# (e)
line(DAYS, e_H_obs, "5", "black", 1.2)
line(DAYS, e_H_expl, "5", GREEN, 1.4)
line(DAYS, e_H_param, "5", BLUE, 1.4)
line(DAYS, e_LE_obs, "5", "black", 3.6)
line(DAYS, e_LE_expl, "5", GREEN, 3.6)
line(DAYS, e_LE_param, "5", BLUE, 3.6)
stars(DAYS, e_H_fc, "5", RED, 7, 1.2)
stars(DAYS, e_LE_fc, "5", RED, 7, 2.8)
# (f)
line(DAYS, f_LWD_obs, "6", "black", 1.0, "6px,4px")
line(DAYS, f_LWD_expl, "6", GREEN, 1.0, "6px,4px")
line(DAYS, f_LWD_param, "6", BLUE, 1.0, "6px,4px")
line(DAYS, f_SWD_obs, "6", "black", 1.0)
line(DAYS, f_SWD_expl, "6", GREEN, 1.2)
line(DAYS, f_SWD_param, "6", BLUE, 1.2)
line(DAYS, f_Rn_obs, "6", "black", 3.6)
line(DAYS, f_Rn_expl, "6", GREEN, 3.6)
line(DAYS, f_Rn_param, "6", BLUE, 3.6)
stars(DAYS, f_LWD_fc, "6", RED, 7, 1.2)
stars(DAYS, f_SWD_fc, "6", RED, 7, 2.8)
stars(DAYS, f_Rn_fc, "6", RED, 7, 2.8)

# ---------------- axes ----------------
TICKFONT = dict(family="DejaVu Sans", size=15, color="#555555")
GRID = dict(gridcolor="#222222", griddash="3px,3px", gridwidth=1)

def xaxis_ts(x0, x1, anchor):
    return dict(domain=[px(x0), px(x1)], anchor=anchor, range=[10, 20],
                tickmode="array", tickvals=[d + 0.5 for d in DAYS], ticktext=[str(d) for d in DAYS],
                ticks="", showgrid=False, zeroline=False, showline=True, linecolor="black",
                linewidth=1, mirror=True, tickfont=TICKFONT, ticklabelstandoff=9,
                minor=dict(tickmode="array", tickvals=list(range(10, 21)), showgrid=True,
                           ticks="outside", ticklen=6, tickcolor="black", **GRID))

def xaxis_daily(x0, x1, anchor):
    return dict(domain=[px(x0), px(x1)], anchor=anchor, range=[9.5, 19.5],
                tickmode="array", tickvals=DAYS, ticktext=[str(d) for d in DAYS],
                ticks="", showgrid=False, zeroline=False, showline=True, linecolor="black",
                linewidth=1, mirror=True, tickfont=TICKFONT, ticklabelstandoff=9,
                minor=dict(tickmode="array", tickvals=[d + 0.5 for d in range(9, 20)], showgrid=True,
                           ticks="outside", ticklen=6, tickcolor="black", **GRID))

def yaxis(ytop, ybot, anchor, rng, major, minor, zero=False):
    return dict(domain=[py(ybot), py(ytop)], anchor=anchor, range=rng,
                tickmode="linear", tick0=rng[0], dtick=major, ticksuffix=".",
                ticks="outside", ticklen=5, tickcolor="black", showgrid=True, **GRID,
                zeroline=zero, zerolinecolor="black", zerolinewidth=1,
                showline=True, linecolor="black", linewidth=1, mirror=True,
                tickfont=TICKFONT, ticklabelstandoff=6,
                minor=dict(tickmode="linear", tick0=rng[0], dtick=minor, showgrid=True,
                           ticks="outside", ticklen=5, tickcolor="black", **GRID))

fig.update_layout(
    xaxis=xaxis_ts(75.7, 536.4, "y"),
    yaxis=yaxis(14, 400.7, "x", [20, 45], 2, 1),
    xaxis2=xaxis_ts(632, 1127, "y2"),
    yaxis2=yaxis(12.7, 400, "x2", [-10, 10], 2, 1, zero=True),
    xaxis3=xaxis_ts(75.7, 536.4, "y3"),
    yaxis3=yaxis(449, 834, "x3", [0, 18], 2, 1),
    xaxis4=xaxis_ts(632, 1127, "y4"),
    yaxis4=yaxis(445, 832.7, "x4", [-6, 10], 2, 1, zero=True),
    xaxis5=xaxis_daily(72.5, 533, "y5"),
    yaxis5=yaxis(878.3, 1262.3, "x5", [0, 90], 20, 10),
    xaxis6=xaxis_daily(630, 1123, "y6"),
    yaxis6=yaxis(879.3, 1267.3, "x6", [0, 550], 100, 50),
)

# ---------------- annotations / custom legends ----------------
ann = []
shapes = []
SERIF = "Liberation Serif"

def text(x, y, s, size=26, color="black", family=SERIF, xanchor="left", angle=0):
    ann.append(dict(x=px(x), y=py(y), xref="paper", yref="paper", text=s, showarrow=False,
                    xanchor=xanchor, yanchor="middle", textangle=angle,
                    font=dict(family=family, size=size, color=color)))

def hline(x0, x1, y, color="black", width=1, dash=None):
    shapes.append(dict(type="line", xref="paper", yref="paper", x0=px(x0), x1=px(x1),
                       y0=py(y), y1=py(y), line=dict(color=color, width=width, dash=dash)))

def box(x0, y0, x1, y1):
    shapes.append(dict(type="rect", xref="paper", yref="paper", x0=px(x0), x1=px(x1),
                       y0=py(y1), y1=py(y0), line=dict(color="#777777", width=1)))

# panel labels
for lab, x, y in [("(a)", 0, 26), ("(b)", 546, 19), ("(c)", 0, 463), ("(d)", 546, 452),
                  ("(e)", 4, 888), ("(f)", 546, 888)]:
    text(x, y, "<b>%s</b>" % lab, size=28)

# y-axis titles
YT = dict(size=16, color="#555555", family="DejaVu Sans", xanchor="center", angle=-90)
text(20, 207, "T2m  (Deg C)", **YT)
text(563, 205, "u  (m/s)", **YT)
text(22, 617, "rain  (mm/day)  &  rv  (g/kg)", **YT)
text(571, 640, "v  (m/s)", **YT)
text(18, 1064, "LE  &  H  (W/m2)", **YT)
text(563, 1072, "Rnet  &  SWD  &  LWD  (W/m2)", **YT)

# APR
text(325, 1307, "APR", size=24, color="#555555", family="DejaVu Sans", xanchor="center")
text(901, 1312, "APR", size=24, color="#555555", family="DejaVu Sans", xanchor="center")

# legend (d)
box(632, 445, 905, 578)
hline(645, 690, 465, "black", 1.2)
hline(645, 690, 527, GREEN, 1.2)
hline(645, 690, 556, BLUE, 1.2)
text(669, 503, "*", size=26, xanchor="center")
text(703, 465, "AWS observations")
text(703, 497, "ECMWF analyses")
text(703, 527, "EXPL", color=GREEN)
text(703, 556, "PARAM", color=BLUE)

# legend (e)
box(78, 886, 192, 964)
hline(93, 138, 909, "black", 1.0)
hline(93, 138, 939, "black", 4.0)
text(149, 910, "H")
text(149, 940, "<b>LE</b>")

# legend (f) top
box(630, 882, 883, 924)
text(650, 906, "*", size=28, color=RED, xanchor="center")
text(676, 901, "ECMWF forecasts", size=27, color=RED)

# legend (f) lower
box(645, 1075, 782, 1181)
hline(659, 705, 1098, "black", 1.0, "6px,4px")
hline(659, 705, 1128, "black", 1.0)
hline(659, 705, 1158, "black", 4.0)
text(716, 1101, "LWD")
text(716, 1130, "SWD")
text(716, 1160, "<b>Rnet</b>")

fig.update_layout(
    width=W, height=H, margin=dict(l=0, r=0, t=0, b=0),
    paper_bgcolor="white", plot_bgcolor="white",
    annotations=ann, shapes=shapes, hovermode=False, showlegend=False,
)

fig.write_html(
    "out.html",
    config={"displayModeBar": False, "staticPlot": True},
    post_script="document.documentElement.style.margin='0';document.body.style.margin='0';"
                "document.body.style.padding='0';document.body.style.overflow='hidden';",
)
